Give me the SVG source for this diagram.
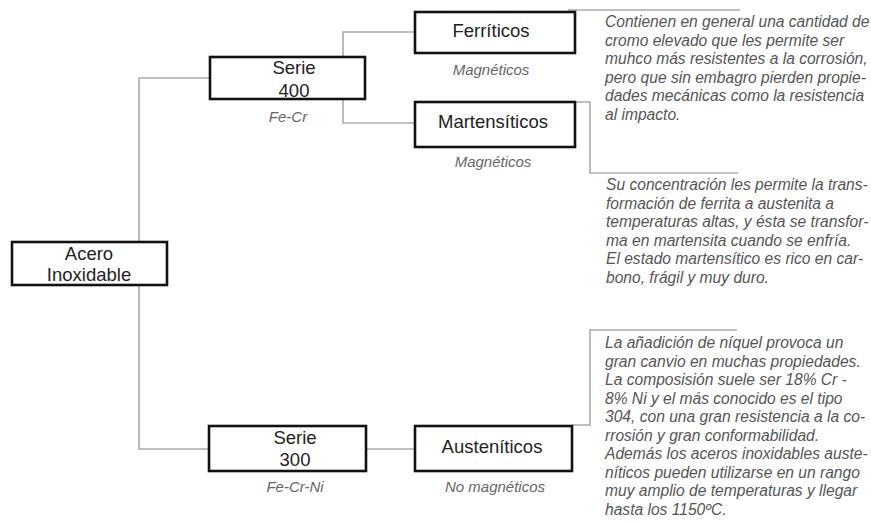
<svg xmlns="http://www.w3.org/2000/svg" width="871" height="524" viewBox="0 0 871 524">
<style>
.box{fill:#fff;stroke:#111;stroke-width:2.6}
.lbl{font-family:"Liberation Sans",Arial,sans-serif;font-size:18.5px;fill:#222;text-anchor:middle}
.cap{font-family:"Liberation Sans",Arial,sans-serif;font-size:15px;font-style:italic;fill:#666;text-anchor:middle}
.desc{font-family:"Liberation Sans",Arial,sans-serif;font-size:15.6px;font-style:italic;fill:#555}
.con{fill:none;stroke:#aaa;stroke-width:1.6}
</style>
<rect width="871" height="524" fill="#fff"/>
<g id="connectors">
<polyline class="con" points="210,78 139,78 139,449 209,449"/>
<polyline class="con" points="343,57 343,32 415,32"/>
<polyline class="con" points="343,99 343,123 415,123"/>
<line class="con" x1="366" y1="449" x2="415" y2="449"/>
<line class="con" x1="568" y1="10" x2="740" y2="10"/>
<polyline class="con" points="575,102 590,102 590,173 738,173"/>
<polyline class="con" points="572,425 590,425 590,330 737,330"/>
</g>
<g id="acero">
<rect class="box" x="12" y="242" width="155" height="43"/>
<text class="lbl" x="89" y="260">Acero</text>
<text class="lbl" x="89" y="281">Inoxidable</text>
</g>
<g id="serie400">
<rect class="box" x="210" y="57" width="155" height="42"/>
<text class="lbl" x="294" y="74">Serie</text>
<text class="lbl" x="294" y="97">400</text>
<text class="cap" x="288" y="122">Fe-Cr</text>
</g>
<g id="serie300">
<rect class="box" x="209" y="426" width="157" height="45"/>
<text class="lbl" x="295" y="444">Serie</text>
<text class="lbl" x="295" y="466">300</text>
<text class="cap" x="295" y="492">Fe-Cr-Ni</text>
</g>
<g id="ferriticos">
<rect class="box" x="415" y="12" width="160" height="41"/>
<text class="lbl" x="491" y="37">Ferríticos</text>
<text class="cap" x="491" y="75">Magnéticos</text>
</g>
<g id="martensiticos">
<rect class="box" x="415" y="102" width="160" height="45"/>
<text class="lbl" x="493" y="128">Martensíticos</text>
<text class="cap" x="493" y="167">Magnéticos</text>
</g>
<g id="austeniticos">
<rect class="box" x="415" y="426" width="157" height="45"/>
<text class="lbl" x="492" y="453">Austeníticos</text>
<text class="cap" x="495" y="492">No magnéticos</text>
</g>
<g id="desc-ferriticos">
<text class="desc" x="605" y="27">Contienen en general una cantidad de</text>
<text class="desc" x="605" y="45.5">cromo elevado que les permite ser</text>
<text class="desc" x="605" y="64">muhco más resistentes a la corrosión,</text>
<text class="desc" x="605" y="82.5">pero que sin embagro pierden propie-</text>
<text class="desc" x="605" y="101">dades mecánicas como la resistencia</text>
<text class="desc" x="605" y="119.5">al impacto.</text>
</g>
<g id="desc-martensiticos">
<text class="desc" x="606" y="190">Su concentración les permite la trans-</text>
<text class="desc" x="606" y="208.5">formación de ferrita a austenita a</text>
<text class="desc" x="606" y="227">temperaturas altas, y ésta se transfor-</text>
<text class="desc" x="606" y="245.5">ma en martensita cuando se enfría.</text>
<text class="desc" x="606" y="264">El estado martensítico es rico en car-</text>
<text class="desc" x="606" y="282.5">bono, frágil y muy duro.</text>
</g>
<g id="desc-austeniticos">
<text class="desc" x="605" y="348">La añadición de níquel provoca un</text>
<text class="desc" x="605" y="366.5">gran canvio en muchas propiedades.</text>
<text class="desc" x="605" y="385">La composisión suele ser 18% Cr -</text>
<text class="desc" x="605" y="403.5">8% Ni y el más conocido es el tipo</text>
<text class="desc" x="605" y="422">304, con una gran resistencia a la co-</text>
<text class="desc" x="605" y="440.5">rrosión y gran conformabilidad.</text>
<text class="desc" x="605" y="459">Además los aceros inoxidables auste-</text>
<text class="desc" x="605" y="477.5">níticos pueden utilizarse en un rango</text>
<text class="desc" x="605" y="496">muy amplio de temperaturas y llegar</text>
<text class="desc" x="605" y="514.5">hasta los 1150ºC.</text>
</g>
</svg>
